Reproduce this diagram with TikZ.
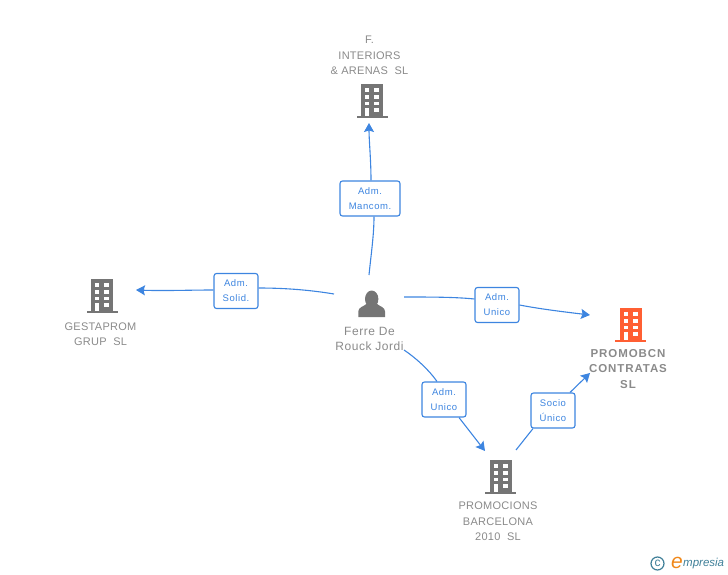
\documentclass[tikz,border=0pt]{standalone}
\usepackage{fontspec}
\setmainfont{Liberation Sans}
\usetikzlibrary{arrows.meta}
\definecolor{linkblue}{HTML}{3D85E0}
\definecolor{labelgray}{HTML}{8A8A8A}
\definecolor{icongray}{HTML}{757575}
\definecolor{iconorange}{HTML}{FF5F33}
\definecolor{logoteal}{HTML}{3F7F98}
\definecolor{logoorange}{HTML}{F0881A}
\tikzset{
  link/.style={linkblue, line width=1.1pt},
  linkto/.style={link, -{Stealth[length=9pt,width=10pt,inset=1.5pt]}},
  rolebox/.style={draw=linkblue, fill=white, line width=1.1pt, rounded corners=2.5pt, minimum height=35pt,
    inner sep=0pt, align=center, text=linkblue, font=\fontsize{9.5}{15}\selectfont\addfontfeature{LetterSpace=6}},
  nametext/.style={align=center, text=labelgray, inner sep=0pt, font=\fontsize{11}{15.3}\selectfont\addfontfeature{LetterSpace=2.5}},
  building/.pic={
    \fill[pic actions] (-11,-17) rectangle (11,15);
    \fill[pic actions] (-15.5,15) rectangle (15.5,17);
    \foreach \y in {-12.7,-6,0.7} {
      \fill[white] (-7,\y) rectangle (-2.7,\y+3.6);
      \fill[white] (2.3,\y) rectangle (7,\y+3.6);
    }
    \fill[white] (-7,7.2) rectangle (-2.7,15);
    \fill[white] (2.3,7.2) rectangle (7,11);
  },
}
\begin{document}
\begin{tikzpicture}[x=1pt,y=-1pt]
\useasboundingbox (0,0) rectangle (728,575);
% buildings and person
\pic[fill=icongray] at (372,101) {building};
\pic[fill=icongray] at (102,296) {building};
\pic[fill=iconorange] at (630.5,325) {building};
\pic[fill=icongray] at (500.5,477) {building};
\fill[icongray] (371.7,299) ellipse (6.7 and 8.5);
\fill[icongray] (358.3,317) -- (358.3,311.5) .. controls (358.3,307) and (364,306.5) .. (367,303.5)
  -- (376.5,303.5) .. controls (379.5,306.5) and (385,307) .. (385,311.5) -- (385,317) -- cycle;
% names
\node[nametext] (interiors) at (369.5,55.5) {F.\\INTERIORS\\\& ARENAS\ \ SL};
\node[nametext] (gestaprom) at (100.5,334) {GESTAPROM\\GRUP\ \ SL};
\node[nametext, font=\fontsize{11.5}{15.3}\selectfont\bfseries\addfontfeature{LetterSpace=8}] (promobcn) at (628,369) {PROMOBCN\\CONTRATAS\\SL};
\node[nametext] (promocions) at (498,521.5) {PROMOCIONS\\BARCELONA\\2010\ \ SL};
\node[nametext, font=\fontsize{12}{15}\selectfont\addfontfeature{LetterSpace=4.5}] (ferre) at (369.5,338.5) {Ferre De\\Rouck Jordi};
% role boxes
\node[rolebox, minimum width=60pt] (mancom) at (370,198.5) {Adm.\\Mancom.};
\node[rolebox, minimum width=44pt] (solid) at (236,291) {Adm.\\Solid.};
\node[rolebox, minimum width=44pt] (unico) at (497,305) {Adm.\\Unico};
\node[rolebox, minimum width=44pt] (unicob) at (444,399.5) {Adm.\\Unico};
\node[rolebox, minimum width=44pt] (socio) at (553,410.5) {Socio\\Único};
% free ends
\coordinate (ferreN) at (369,275);
\coordinate (ferreW) at (334,294);
\coordinate (ferreE) at (404,297);
\coordinate (ferreS) at (404,350);
\coordinate (interiorsS) at (369,123);
\coordinate (gestapromE) at (136,290);
\coordinate (promobcnW) at (590,315);
\coordinate (promobcnS) at (590,373);
\coordinate (promocionsN) at (485,451);
\coordinate (promocionsE) at (516,450);
% connectors
\draw[link] (ferreN) .. controls (371,255) and (374,235) .. (mancom.south -| 374,0);
\draw[linkto] (mancom.north -| 371,0) .. controls (371,160) and (369,140) .. (interiorsS);
\draw[link] (ferreW) .. controls (310,290) and (285,288) .. (solid.east |- 0,288);
\draw[linkto] (solid.west |- 0,290) .. controls (190,290) and (165,291) .. (gestapromE);
\draw[link] (ferreE) .. controls (430,297) and (455,297) .. (unico.west |- 0,299);
\draw[linkto] (unico.east |- 0,305) .. controls (540,309) and (565,312) .. (promobcnW);
\draw[link] (ferreS) .. controls (416,358) and (429,370) .. (unicob.north -| 437,0);
\draw[linkto] (unicob.south -| 459,0) -- (promocionsN);
\draw[link] (promocionsE) -- (socio.south -| 533,0);
\draw[linkto] (socio.north -| 570,0) -- (promobcnS);
% logo
\node[circle, draw=logoteal, line width=1.2pt, minimum size=13pt, inner sep=0pt,
  text=logoteal, font=\fontsize{12}{12}\selectfont] (copyr) at (657.5,563.5) {c};
\node[inner sep=0pt, text=logoorange, font=\fontsize{21}{21}\itshape\selectfont] (logoe) at (677,563) {e};
\node[inner sep=0pt, anchor=west, text=logoteal, font=\fontsize{11.5}{13}\itshape\selectfont] (logotxt) at (683,564) {mpresia};
\end{tikzpicture}
\end{document}
